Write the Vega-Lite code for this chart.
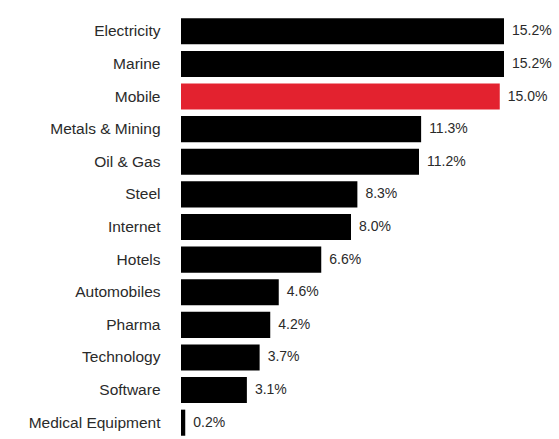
{
  "$schema": "https://vega.github.io/schema/vega-lite/v6.json",
  "autosize": {"type": "none"},
  "width": 323,
  "height": 424,
  "padding": {"left": 181, "top": 15, "right": 55, "bottom": 0},
  "background": "white",
  "config": {"view": {"stroke": null}},
  "data": {"values": [
    {"sector": "Electricity", "share": 0.152, "highlight": "no"},
    {"sector": "Marine", "share": 0.152, "highlight": "no"},
    {"sector": "Mobile", "share": 0.150, "highlight": "yes"},
    {"sector": "Metals & Mining", "share": 0.113, "highlight": "no"},
    {"sector": "Oil & Gas", "share": 0.112, "highlight": "no"},
    {"sector": "Steel", "share": 0.083, "highlight": "no"},
    {"sector": "Internet", "share": 0.080, "highlight": "no"},
    {"sector": "Hotels", "share": 0.066, "highlight": "no"},
    {"sector": "Automobiles", "share": 0.046, "highlight": "no"},
    {"sector": "Pharma", "share": 0.042, "highlight": "no"},
    {"sector": "Technology", "share": 0.037, "highlight": "no"},
    {"sector": "Software", "share": 0.031, "highlight": "no"},
    {"sector": "Medical Equipment", "share": 0.002, "highlight": "no"}
  ]},
  "encoding": {
    "y": {
      "field": "sector", "type": "nominal", "sort": null,
      "scale": {"paddingInner": 0.2, "paddingOuter": 0.1},
      "axis": {"title": null, "domain": false, "ticks": false, "labelPadding": 21,
               "labelFont": "Liberation Sans", "labelFontSize": 15.5, "labelColor": "#2a2a2a", "labelLimit": 200}
    },
    "x": {
      "field": "share", "type": "quantitative",
      "scale": {"domain": [0, 0.152], "nice": false, "zero": true},
      "axis": null
    }
  },
  "layer": [
    {
      "mark": {"type": "bar"},
      "encoding": {
        "color": {"field": "highlight", "type": "nominal",
                  "scale": {"domain": ["no", "yes"], "range": ["#000000", "#e3222f"]},
                  "legend": null}
      }
    },
    {
      "mark": {"type": "text", "align": "left", "baseline": "middle", "dx": 8,
               "font": "Liberation Sans", "fontSize": 14, "color": "#2a2a2a"},
      "encoding": {"text": {"field": "share", "type": "quantitative", "format": ".1%"}}
    }
  ]
}
